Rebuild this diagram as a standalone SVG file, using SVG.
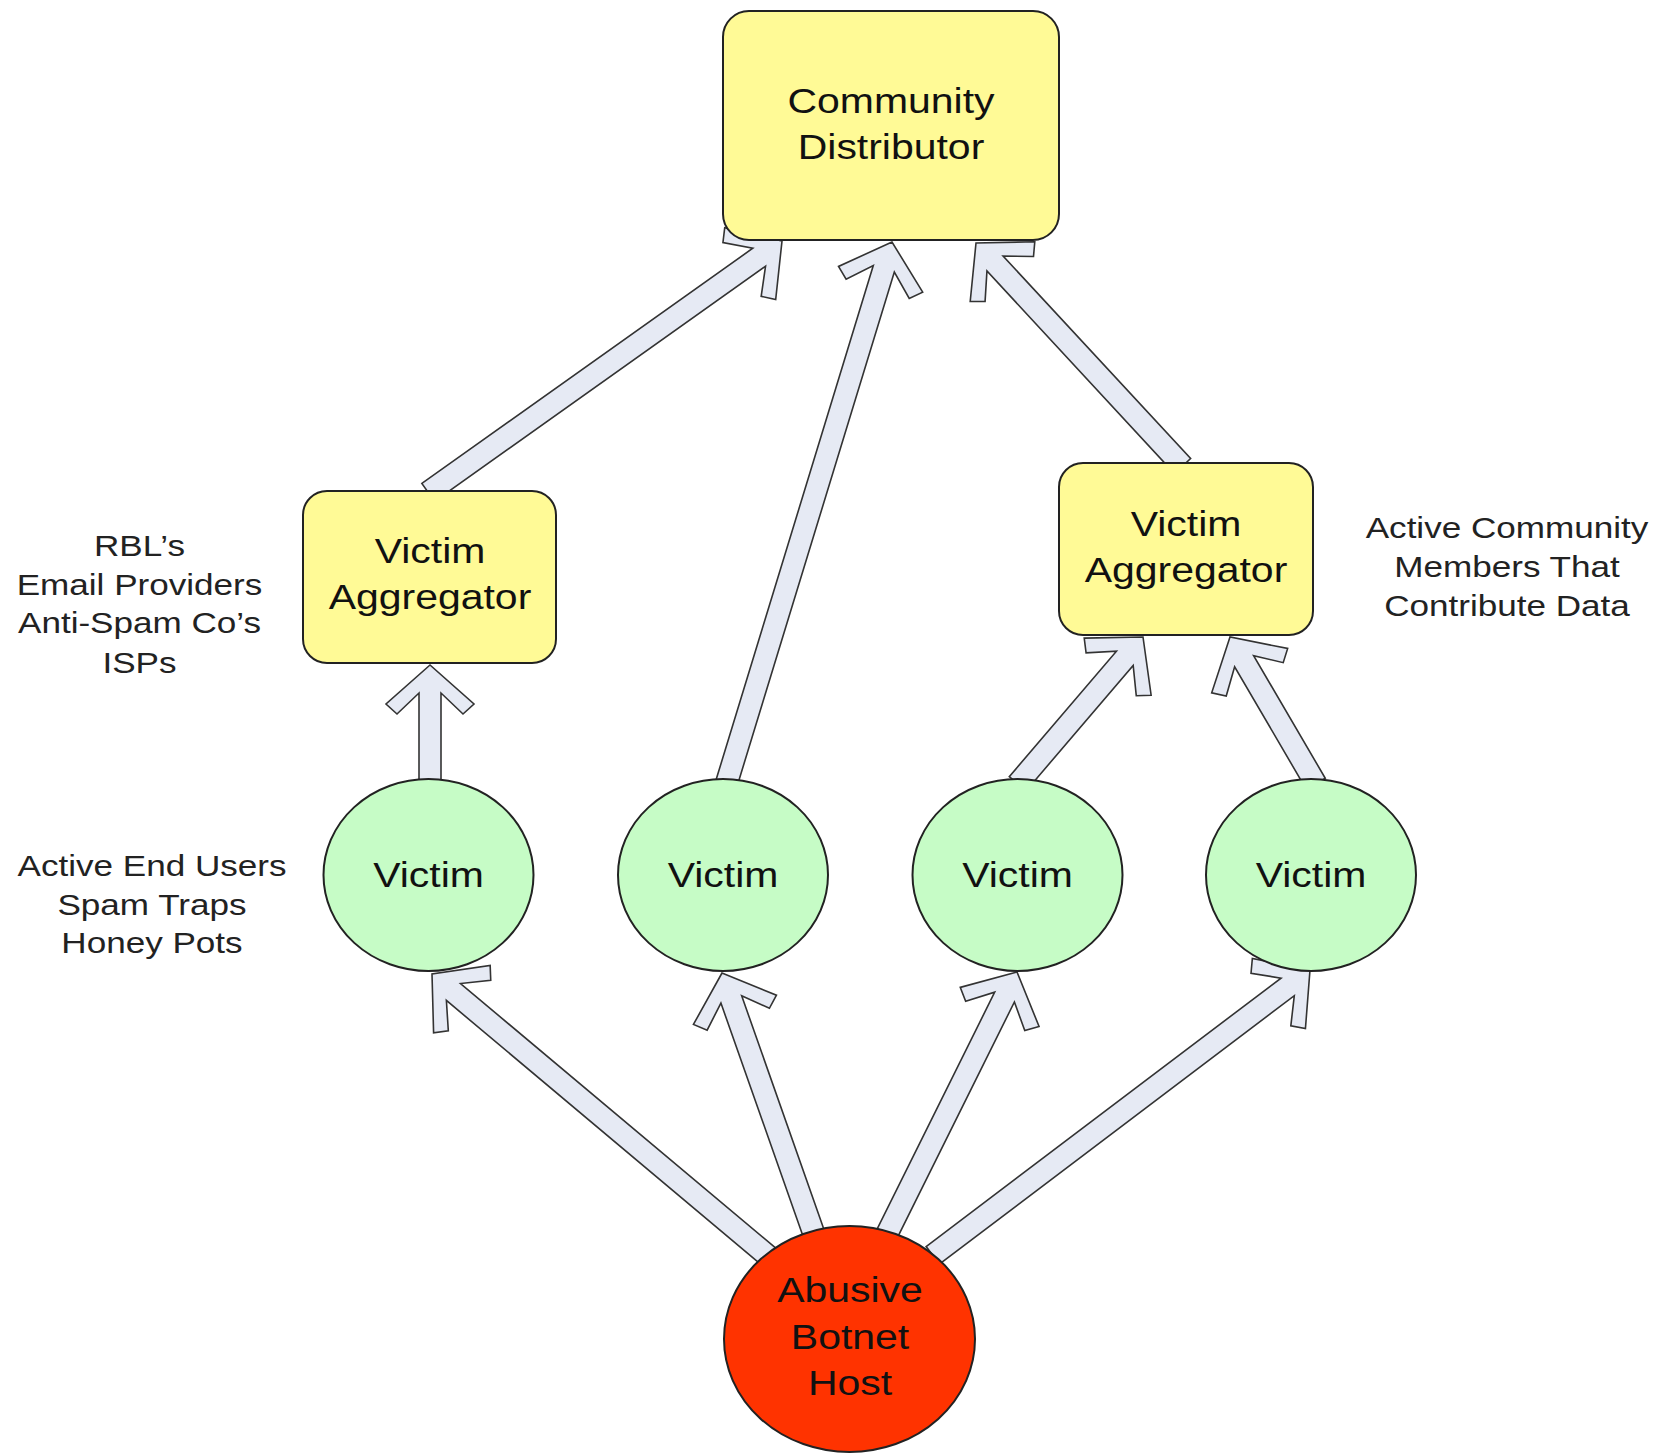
<svg xmlns="http://www.w3.org/2000/svg" width="1662" height="1454" viewBox="0 0 1662 1454">
<style>
.arrow{fill:#E6EAF4;stroke:#333;stroke-width:1.6;stroke-linejoin:miter}
.box{fill:#FFFA96;stroke:#222;stroke-width:2}
.vic{fill:#C6FCC6;stroke:#222;stroke-width:2}
.bot{fill:#FF3300;stroke:#222;stroke-width:2}
.nt{font-family:"Liberation Sans",Arial,sans-serif;font-size:35px;fill:#111;text-anchor:middle}
.lt{font-family:"Liberation Sans",Arial,sans-serif;font-size:30px;fill:#222;text-anchor:middle}
</style>
<rect width="1662" height="1454" fill="#fff"/>
<g id="connectors">
<polygon class="arrow" transform="translate(430 665) rotate(-90)" points="0,0 -39,-44 -49,-33 -28,-11 -118,-11 -118,11 -28,11 -49,33 -39,44"/>
<polygon class="arrow" transform="translate(782 241) rotate(-35.4)" points="0,0 -39,-44 -49,-33 -28,-11 -434,-11 -434,11 -28,11 -49,33 -39,44"/>
<polygon class="arrow" transform="translate(892 242) rotate(-73)" points="0,0 -39,-44 -49,-33 -28,-11 -566,-11 -566,11 -28,11 -49,33 -39,44"/>
<polygon class="arrow" transform="translate(976 243) rotate(-132.8)" points="0,0 -39,-44 -49,-33 -28,-11 -304,-11 -304,11 -28,11 -49,33 -39,44"/>
<polygon class="arrow" transform="translate(1143 637) rotate(-49.5)" points="0,0 -39,-44 -49,-33 -28,-11 -193,-11 -193,11 -28,11 -49,33 -39,44"/>
<polygon class="arrow" transform="translate(1230 637) rotate(-120.3)" points="0,0 -39,-44 -49,-33 -28,-11 -170,-11 -170,11 -28,11 -49,33 -39,44"/>
<polygon class="arrow" transform="translate(432 974) rotate(-140)" points="0,0 -39,-44 -49,-33 -28,-11 -440,-11 -440,11 -28,11 -49,33 -39,44"/>
<polygon class="arrow" transform="translate(722 973) rotate(-109.4)" points="0,0 -39,-44 -49,-33 -28,-11 -276,-11 -276,11 -28,11 -49,33 -39,44"/>
<polygon class="arrow" transform="translate(1017 972) rotate(-63.6)" points="0,0 -39,-44 -49,-33 -28,-11 -292,-11 -292,11 -28,11 -49,33 -39,44"/>
<polygon class="arrow" transform="translate(1310 970) rotate(-37.1)" points="0,0 -39,-44 -49,-33 -28,-11 -473,-11 -473,11 -28,11 -49,33 -39,44"/>
</g>
<g id="community-distributor">
<rect class="box" x="723" y="11" width="336" height="229" rx="26"/>
<g transform="translate(891 0) scale(1.17 1)"><text class="nt" x="0" y="113">Community</text><text class="nt" x="0" y="159">Distributor</text></g>
</g>
<g id="aggregator-left">
<rect class="box" x="303" y="491" width="253" height="172" rx="24"/>
<g transform="translate(430 0) scale(1.17 1)"><text class="nt" x="0" y="563">Victim</text><text class="nt" x="0" y="609">Aggregator</text></g>
</g>
<g id="aggregator-right">
<rect class="box" x="1059" y="463" width="254" height="172" rx="24"/>
<g transform="translate(1186 0) scale(1.17 1)"><text class="nt" x="0" y="536">Victim</text><text class="nt" x="0" y="582">Aggregator</text></g>
</g>
<g id="victim-1">
<ellipse class="vic" cx="428.5" cy="875" rx="105" ry="96"/>
<g transform="translate(428.5 0) scale(1.17 1)"><text class="nt" x="0" y="887">Victim</text></g>
</g>
<g id="victim-2">
<ellipse class="vic" cx="723" cy="875" rx="105" ry="96"/>
<g transform="translate(723 0) scale(1.17 1)"><text class="nt" x="0" y="887">Victim</text></g>
</g>
<g id="victim-3">
<ellipse class="vic" cx="1017.5" cy="875" rx="105" ry="96"/>
<g transform="translate(1017.5 0) scale(1.17 1)"><text class="nt" x="0" y="887">Victim</text></g>
</g>
<g id="victim-4">
<ellipse class="vic" cx="1311" cy="875" rx="105" ry="96"/>
<g transform="translate(1311 0) scale(1.17 1)"><text class="nt" x="0" y="887">Victim</text></g>
</g>
<g id="botnet-host">
<ellipse class="bot" cx="849.5" cy="1339" rx="125.5" ry="113"/>
<g transform="translate(850 0) scale(1.17 1)"><text class="nt" x="0" y="1302">Abusive</text><text class="nt" x="0" y="1349">Botnet</text><text class="nt" x="0" y="1395">Host</text></g>
</g>
<g id="label-aggregators-left" transform="translate(139.5 0) scale(1.17 1)">
<text class="lt" x="0" y="556">RBL’s</text>
<text class="lt" x="0" y="595">Email Providers</text>
<text class="lt" x="0" y="633">Anti-Spam Co’s</text>
<text class="lt" x="0" y="673">ISPs</text>
</g>
<g id="label-victims" transform="translate(152 0) scale(1.17 1)">
<text class="lt" x="0" y="876">Active End Users</text>
<text class="lt" x="0" y="915">Spam Traps</text>
<text class="lt" x="0" y="953">Honey Pots</text>
</g>
<g id="label-aggregators-right" transform="translate(1507 0) scale(1.17 1)">
<text class="lt" x="0" y="538">Active Community</text>
<text class="lt" x="0" y="577">Members That</text>
<text class="lt" x="0" y="616">Contribute Data</text>
</g>
</svg>
